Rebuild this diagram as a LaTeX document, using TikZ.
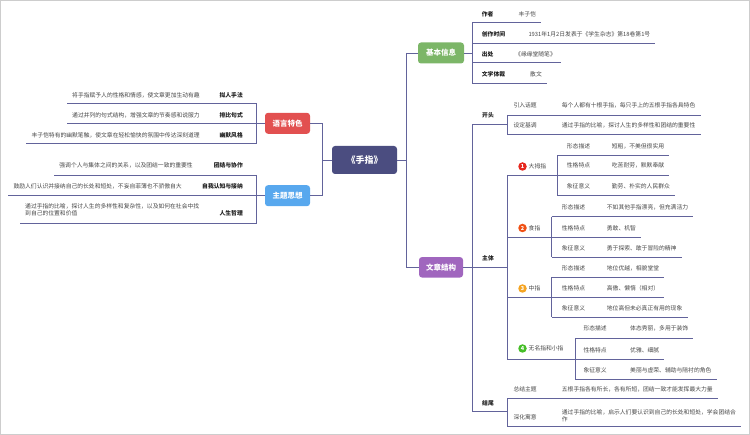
\documentclass[tikz,border=0pt]{standalone}
\usepackage{fontspec}
\setmainfont{Noto Sans CJK SC}
\usepackage{xcolor}
\usepackage{tikz}

\definecolor{linec}{RGB}{98,99,155}
\definecolor{framec}{RGB}{205,205,205}
\definecolor{txtc}{RGB}{30,30,30}
\definecolor{itmc}{RGB}{70,70,70}
\definecolor{rootc}{RGB}{75,77,128}
\definecolor{infoc}{RGB}{124,182,104}
\definecolor{langc}{RGB}{226,80,80}
\definecolor{themec}{RGB}{88,168,238}
\definecolor{structc}{RGB}{160,102,190}
\definecolor{onec}{RGB}{230,40,30}
\definecolor{twoc}{RGB}{240,80,20}
\definecolor{threec}{RGB}{245,165,35}
\definecolor{fourc}{RGB}{70,190,40}

\begin{document}
\begin{tikzpicture}[x=1pt,y=-1pt,
    ln/.style={draw=linec,line width=0.9pt},
    hub/.style={rounded corners=3pt,inner sep=0pt,minimum width=46pt,minimum height=21pt,text=white,font=\fontsize{7.5}{8}\selectfont\bfseries},
    lbl/.style={inner sep=0pt,text=txtc,font=\fontsize{5.8}{7}\selectfont\bfseries},
    itm/.style={inner sep=0pt,text=itmc,font=\fontsize{5.8}{7}\selectfont},
    dsc/.style={inner xsep=5pt,inner ysep=0pt,text=itmc,font=\fontsize{5.8}{7.4}\selectfont},
    num/.style={circle,inner sep=0pt,minimum size=8.5pt,text=white,font=\fontsize{5.5}{6}\selectfont\bfseries}]
    %
    \useasboundingbox (0,0) rectangle (750,435);
    \draw[draw=framec,line width=1pt] (0.5,0.5) rectangle (749.5,434.5);
    %
    \node[hub,minimum width=65pt,minimum height=28pt,fill=rootc,font=\fontsize{9}{10}\selectfont\bfseries] (root) at (364.5,160) {《手指》};
    \node[hub,fill=infoc] (info) at (441,53) {基本信息};
    \node[hub,fill=langc,minimum width=45pt] (lang) at (287.5,123.3) {语言特色};
    \node[hub,fill=themec,minimum width=45pt] (theme) at (287.5,195.7) {主题思想};
    \node[hub,fill=structc,minimum width=44pt,minimum height=20.5pt] (struct) at (441,267.3) {文章结构};

    \coordinate (kr) at (406,160);
    \coordinate (kr1) at (406,53);
    \coordinate (kr2) at (406,267.3);
    \coordinate (kl) at (322.7,160);
    \coordinate (kl0a) at (322.7,123.3);
    \coordinate (kl0b) at (322.7,195.7);
    %
    \coordinate (ki1) at (472,22.7);
    \coordinate (ki2) at (472,43);
    \coordinate (ki3) at (472,62.7);
    \coordinate (ki4) at (472,83.3);
    \node[lbl,anchor=west] (i1) at (481.7,14) {作者};
    \node[dsc,anchor=west] (i1v) at (513.3,14) {丰子恺};
    \node[lbl,anchor=west] (i2) at (481.7,34.3) {创作时间};
    \node[dsc,anchor=west] (i2v) at (523.3,34.3) {1931年1月2日发表于《学生杂志》第18卷第1号};
    \node[lbl,anchor=west] (i3) at (481.7,54) {出处};
    \node[dsc,anchor=west] (i3v) at (510,54) {《缘缘堂随笔》};
    \node[lbl,anchor=west] (i4) at (481.7,74) {文学体裁};
    \node[dsc,anchor=west] (i4v) at (525,74) {散文};
    %
    \coordinate (kl1) at (256.7,103.3);
    \coordinate (kl2) at (256.7,123.3);
    \coordinate (kl3) at (256.7,143.3);
    \node[lbl,anchor=east] (l1) at (243,95) {拟人手法};
    \node[dsc,anchor=east] (l1v) at (205,95) {将手指赋予人的性格和情感，使文章更加生动有趣};
    \node[lbl,anchor=east] (l2) at (243,115) {排比句式};
    \node[dsc,anchor=east] (l2v) at (205,115) {通过并列的句式结构，增强文章的节奏感和说服力};
    \node[lbl,anchor=east] (l3) at (243,135) {幽默风格};
    \node[dsc,anchor=east] (l3v) at (205,135) {丰子恺特有的幽默笔触，使文章在轻松愉快的氛围中传达深刻道理};
    %
    \coordinate (kt1) at (256.7,175);
    \coordinate (kt2) at (256.7,195.7);
    \coordinate (kt3) at (256.7,223.3);
    \node[lbl,anchor=east] (t1) at (243,165.7) {团结与协作};
    \node[dsc,anchor=east] (t1v) at (198,165.7) {强调个人与集体之间的关系，以及团结一致的重要性};
    \node[lbl,anchor=east] (t2) at (243,186.7) {自我认知与接纳};
    \node[dsc,anchor=east] (t2v) at (187,186.7) {鼓励人们认识并接纳自己的长处和短处，不妄自菲薄也不骄傲自大};
    \node[lbl,anchor=east] (t3) at (243,213.3) {人生哲理};
    \node[dsc,anchor=west,align=left] (t3v) at (20,210) {通过手指的比喻，探讨人生的多样性和复杂性，以及如何在社会中找\\到自己的位置和价值};
    %
    \coordinate (ks1) at (472,124.3);
    \coordinate (ks2) at (472,267.3);
    \coordinate (ks3) at (472,411.7);
    \coordinate (kb1) at (507,124.3);
    \coordinate (kb2) at (507,267.3);
    \coordinate (kb3) at (507,411.7);
    \node[lbl,anchor=west] (s1) at (482,115) {开头};
    \node[lbl,anchor=west] (s2) at (482,258.3) {主体};
    \node[lbl,anchor=west] (s3) at (482,403) {结尾};

    \coordinate (ka1) at (507,115);
    \coordinate (ka2) at (507,134.3);
    \node[itm,anchor=west] (a1) at (513.3,105) {引入话题};
    \node[dsc,anchor=west] (a1v) at (556.7,105) {每个人都有十根手指，每只手上的五根手指各具特色};
    \node[itm,anchor=west] (a2) at (513.3,125.7) {设定基调};
    \node[dsc,anchor=west] (a2v) at (556.7,125.7) {通过手指的比喻，探讨人生的多样性和团结的重要性};

    \coordinate (kf1) at (507,175);
    \coordinate (kf2) at (507,237.3);
    \coordinate (kf3) at (507,297.3);
    \coordinate (kf4) at (507,359.3);
    \node[num,fill=onec] (n1) at (522.5,166.5) {1};
    \node[itm,anchor=west] (f1) at (528.5,166.5) {大拇指};
    \node[num,fill=twoc] (n2) at (522.5,228) {2};
    \node[itm,anchor=west] (f2) at (528.5,228) {食指};
    \node[num,fill=threec] (n3) at (522.5,288.5) {3};
    \node[itm,anchor=west] (f3) at (528.5,288.5) {中指};
    \node[num,fill=fourc] (n4) at (522.5,348.5) {4};
    \node[itm,anchor=west] (f4) at (528.5,348.5) {无名指和小指};

    \coordinate (kf1a) at (557,155.7);
    \coordinate (kf1b) at (557,175);
    \coordinate (kf1c) at (557,195.7);
    \node[itm,anchor=west] (f1a) at (566.7,146.7) {形态描述};
    \node[dsc,anchor=west] (f1av) at (606.7,146.7) {短粗，不美但很实用};
    \node[itm,anchor=west] (f1b) at (566.7,165.7) {性格特点};
    \node[dsc,anchor=west] (f1bv) at (606.7,165.7) {吃苦耐劳，默默奉献};
    \node[itm,anchor=west] (f1c) at (566.7,186.5) {象征意义};
    \node[dsc,anchor=west] (f1cv) at (606.7,186.5) {勤劳、朴实的人民群众};

    \coordinate (kf2a) at (551.7,216.7);
    \coordinate (kf2b) at (551.7,237.3);
    \coordinate (kf2c) at (551.7,257.3);
    \node[itm,anchor=west] (f2a) at (561.7,207.7) {形态描述};
    \node[dsc,anchor=west] (f2av) at (601.7,207.7) {不如其他手指漂亮，但充满活力};
    \node[itm,anchor=west] (f2b) at (561.7,228.3) {性格特点};
    \node[dsc,anchor=west] (f2bv) at (601.7,228.3) {勇敢、机智};
    \node[itm,anchor=west] (f2c) at (561.7,248.3) {象征意义};
    \node[dsc,anchor=west] (f2cv) at (601.7,248.3) {勇于探索、敢于冒险的精神};

    \coordinate (kf3a) at (551.7,277.3);
    \coordinate (kf3b) at (551.7,297.3);
    \coordinate (kf3c) at (551.7,317.3);
    \node[itm,anchor=west] (f3a) at (561.7,268.3) {形态描述};
    \node[dsc,anchor=west] (f3av) at (601.7,268.3) {地位优越，相貌堂堂};
    \node[itm,anchor=west] (f3b) at (561.7,288.3) {性格特点};
    \node[dsc,anchor=west] (f3bv) at (601.7,288.3) {高傲、懒惰（相对）};
    \node[itm,anchor=west] (f3c) at (561.7,308.3) {象征意义};
    \node[dsc,anchor=west] (f3cv) at (601.7,308.3) {地位高但未必真正有用的现象};

    \coordinate (kf4a) at (575,338.3);
    \coordinate (kf4b) at (575,359.3);
    \coordinate (kf4c) at (575,379);
    \node[itm,anchor=west] (f4a) at (583.3,328.8) {形态描述};
    \node[dsc,anchor=west] (f4av) at (625,328.8) {体态秀丽，多用于装饰};
    \node[itm,anchor=west] (f4b) at (583.3,350) {性格特点};
    \node[dsc,anchor=west] (f4bv) at (625,350) {优雅、细腻};
    \node[itm,anchor=west] (f4c) at (583.3,370) {象征意义};
    \node[dsc,anchor=west] (f4cv) at (625,370) {美丽与虚荣、辅助与陪衬的角色};

    \coordinate (ke1) at (507,398.3);
    \coordinate (ke2) at (507,426.7);
    \node[itm,anchor=west] (e1) at (513.3,389.5) {总结主题};
    \node[dsc,anchor=west] (e1v) at (556.7,389.5) {五根手指各有所长，各有所短，团结一致才能发挥最大力量};
    \node[itm,anchor=west] (e2) at (513.3,417) {深化寓意};
    \node[dsc,anchor=west,align=left] (e2v) at (556.7,415.5) {通过手指的比喻，启示人们要认识到自己的长处和短处，学会团结合\\作};
    %
    \draw[ln] (root) -- (kr);
    \draw[ln] (kr1) -- (kr2);
    \draw[ln] (kr1) -- (info);
    \draw[ln] (kr2) -- (struct);
    \draw[ln] (root) -- (kl);
    \draw[ln] (kl0a) -- (kl0b);
    \draw[ln] (kl0a) -- (lang);
    \draw[ln] (kl0b) -- (theme);

    \draw[ln] (info) -- (info -| ki1);
    \draw[ln] (ki1) -- (ki4);
    \draw[ln] (ki1) -- (ki1 -| i1v.east);
    \draw[ln] (ki2) -- (ki2 -| i2v.east);
    \draw[ln] (ki3) -- (ki3 -| i3v.east);
    \draw[ln] (ki4) -- (ki4 -| i4v.east);

    \draw[ln] (lang) -- (lang -| kl1);
    \draw[ln] (kl1) -- (kl3);
    \draw[ln] (kl1) -- (kl1 -| l1v.west);
    \draw[ln] (kl2) -- (kl2 -| l2v.west);
    \draw[ln] (kl3) -- (kl3 -| l3v.west);

    \draw[ln] (theme) -- (theme -| kt1);
    \draw[ln] (kt1) -- (kt3);
    \draw[ln] (kt1) -- (kt1 -| t1v.west);
    \draw[ln] (kt2) -- (kt2 -| t2v.west);
    \draw[ln] (kt3) -- (kt3 -| t3v.west);

    \draw[ln] (struct) -- (ks2);
    \draw[ln] (ks1) -- (ks3);
    \draw[ln] (ks1) -- (kb1);
    \draw[ln] (ks2) -- (kb2);
    \draw[ln] (ks3) -- (kb3);

    \draw[ln] (ka1) -- (ka2);
    \draw[ln] (ka1) -- (ka1 -| a1v.east);
    \draw[ln] (ka2) -- (ka2 -| a2v.east);

    \draw[ln] (kf1) -- (kf4);
    \draw[ln] (kf1) -- (kf1 -| kf1a);
    \draw[ln] (kf2) -- (kf2 -| kf2a);
    \draw[ln] (kf3) -- (kf3 -| kf3a);
    \draw[ln] (kf4) -- (kf4 -| kf4a);

    \draw[ln] (kf1a) -- (kf1c);
    \draw[ln] (kf1a) -- (kf1a -| f1av.east);
    \draw[ln] (kf1b) -- (kf1b -| f1bv.east);
    \draw[ln] (kf1c) -- (kf1c -| f1cv.east);
    \draw[ln] (kf2a) -- (kf2c);
    \draw[ln] (kf2a) -- (kf2a -| f2av.east);
    \draw[ln] (kf2b) -- (kf2b -| f2bv.east);
    \draw[ln] (kf2c) -- (kf2c -| f2cv.east);
    \draw[ln] (kf3a) -- (kf3c);
    \draw[ln] (kf3a) -- (kf3a -| f3av.east);
    \draw[ln] (kf3b) -- (kf3b -| f3bv.east);
    \draw[ln] (kf3c) -- (kf3c -| f3cv.east);
    \draw[ln] (kf4a) -- (kf4c);
    \draw[ln] (kf4a) -- (kf4a -| f4av.east);
    \draw[ln] (kf4b) -- (kf4b -| f4bv.east);
    \draw[ln] (kf4c) -- (kf4c -| f4cv.east);

    \draw[ln] (ke1) -- (ke2);
    \draw[ln] (ke1) -- (ke1 -| e1v.east);
    \draw[ln] (ke2) -- (ke2 -| e2v.east);
    %
\end{tikzpicture}
\end{document}
